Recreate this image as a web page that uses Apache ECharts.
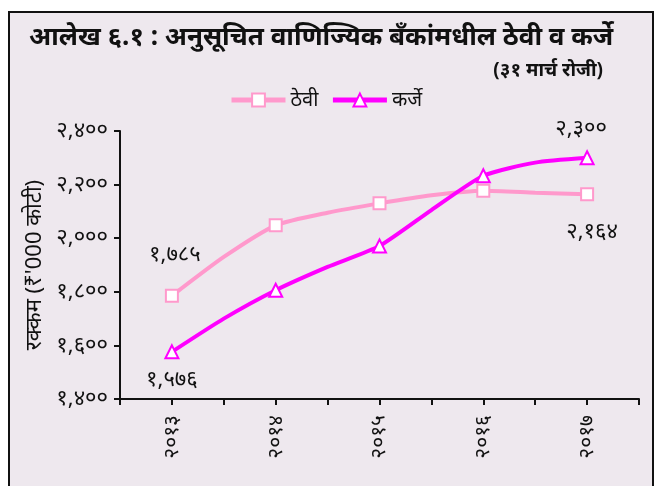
<!DOCTYPE html>
<html>
<head>
<meta charset="utf-8">
<script src="https://cdn.jsdelivr.net/npm/echarts@6/dist/echarts.min.js"></script>
<style>
  html, body { margin: 0; padding: 0; background: #fff; }
  #frame { position: absolute; left: 8px; top: 11px; width: 642px; height: 480px;
           border: 2px solid #111; border-bottom: none; background: #EEE8EE; }
  #main { position: absolute; left: 0; top: 0; width: 660px; height: 486px; }
</style>
</head>
<body>
<div id="frame"></div>
<div id="main"></div>
<script>
// half-yearly positions, markers only on the March points
var categories = ['', '२०१३', '', '२०१४', '', '२०१५', '', '२०१६', '', '२०१७', ''];
var deposits = ['-', 1785, 1930, 2048, 2095, 2130, 2160, 2177, 2170, 2164, '-'];
var loans    = ['-', 1576, 1700, 1806, 1893, 1971, 2105, 2233, 2282, 2300, '-'];
// which points carry a marker and which carry a value label
var markerIdx = [1, 3, 5, 7, 9];
var depositLabels = { 1: 'top', 9: 'bottom' };
var loanLabels = { 1: 'bottom', 9: 'top' };

var devDigits = ['०','१','२','३','४','५','६','७','८','९'];
function toDev(n) {
  var s = String(n).replace(/\B(?=(\d{3})+(?!\d))/g, ',');
  return s.replace(/\d/g, function (d) { return devDigits[+d]; });
}

function buildData(values, labels, labelOffsets) {
  return values.map(function (v, i) {
    var item = { value: v };
    if (markerIdx.indexOf(i) < 0) item.symbol = 'none';
    if (labels[i]) {
      item.label = { show: true, position: labels[i], offset: labelOffsets[i] || [0, 0],
        formatter: function (p) { return toDev(p.value); } };
    }
    return item;
  });
}

var myChart = echarts.init(document.getElementById('main'));
var fontFam = '"Noto Sans", "DejaVu Sans", sans-serif';

myChart.setOption({
  backgroundColor: 'transparent',
  title: [
    { text: 'आलेख ६.१ : अनुसूचित वाणिज्यिक बँकांमधील ठेवी व कर्जे', left: 24, top: 20,
      textStyle: { fontSize: 26, fontWeight: 'bold', color: '#111', fontFamily: fontFam } },
    { text: '(३१ मार्च रोजी)', right: 52, top: 56,
      textStyle: { fontSize: 19, fontWeight: 'bold', color: '#111', fontFamily: fontFam } }
  ],
  legend: {
    top: 85, left: 224, itemWidth: 54, itemHeight: 16, itemGap: 12,
    lineStyle: { width: 5 },
    textStyle: { fontSize: 20, color: '#111', fontFamily: fontFam },
    data: ['ठेवी', 'कर्जे']
  },
  grid: { left: 120, right: 21, top: 131, bottom: 87, containLabel: false },
  xAxis: {
    type: 'category', data: categories, boundaryGap: false,
    axisLine: { lineStyle: { color: '#111', width: 2 } },
    axisTick: { show: true, length: 6, inside: false, interval: 0, lineStyle: { color: '#111', width: 2 } },
    axisLabel: { rotate: 90, interval: 0, margin: 16, fontSize: 21, color: '#111', fontFamily: fontFam },
    splitLine: { show: false }
  },
  yAxis: {
    type: 'value', min: 1400, max: 2400, interval: 200,
    name: "रक्कम (₹'000 कोटी)", nameLocation: 'middle', nameGap: 72, nameRotate: 90,
    nameTextStyle: { fontSize: 22, color: '#111', fontFamily: fontFam },
    axisLine: { show: true, lineStyle: { color: '#111', width: 2 } },
    axisTick: { show: true, length: 6, lineStyle: { color: '#111', width: 2 } },
    axisLabel: { margin: 12, fontSize: 22, color: '#111', fontFamily: fontFam,
      formatter: function (v) { return toDev(v); } },
    splitLine: { show: false }
  },
  series: [
    {
      name: 'ठेवी', type: 'line', smooth: 0.2,
      symbol: 'rect', symbolSize: 12, showAllSymbol: true,
      lineStyle: { color: '#FF99CC', width: 4 },
      itemStyle: { color: '#FFFFFF', borderColor: '#FF99CC', borderWidth: 2 },
      label: { color: '#111', fontSize: 22, fontFamily: fontFam },
      data: buildData(deposits, depositLabels, { 1: [3, -18], 9: [5, 14] })
    },
    {
      name: 'कर्जे', type: 'line', smooth: 0.2,
      symbol: 'triangle', symbolSize: 13, showAllSymbol: true,
      lineStyle: { color: '#FF00FF', width: 4 },
      itemStyle: { color: '#FFFFFF', borderColor: '#FF00FF', borderWidth: 2 },
      label: { color: '#111', fontSize: 22, fontFamily: fontFam },
      data: buildData(loans, loanLabels, { 1: [0, 4], 9: [-6, -6] })
    }
  ]
});
</script>
</body>
</html>
